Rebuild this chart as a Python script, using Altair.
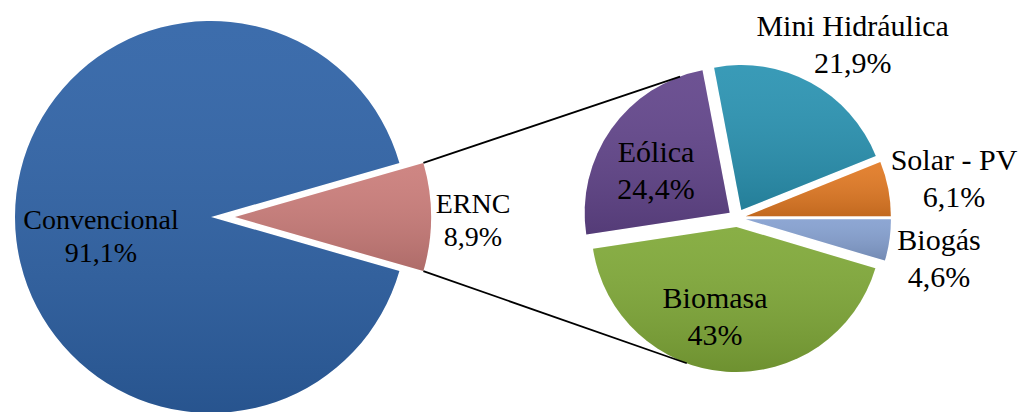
import math
import altair as alt
import pandas as pd

# ---------------- data ----------------
left_categories = ["ERNC", "Convencional"]
left_values = [8.9, 91.1]
left_pct_labels = ["8,9%", "91,1%"]

right_categories = ["Mini Hidráulica", "Solar - PV", "Biogás", "Biomasa", "Eólica"]
right_values = [21.9, 6.1, 4.6, 43.0, 24.4]
right_pct_labels = ["21,9%", "6,1%", "4,6%", "43%", "24,4%"]

# ---------------- style ----------------
slice_colors = {
    "Convencional": "#2E62A6",
    "ERNC": "#CB7D7A",
    "Mini Hidráulica": "#2A93B2",
    "Solar - PV": "#E27A24",
    "Biogás": "#85A0D0",
    "Biomasa": "#80A938",
    "Eólica": "#62458B",
}
LEFT = dict(cx=211.0, cy=217.0, r=196.0, font=28, line=32.5)
RIGHT = dict(cx=737.0, cy=218.0, r=145.0, font=30, line=36.5)
explode = {"ERNC": 24, "Convencional": 0}
RIGHT_EXPLODE = 9
CONNECTOR_TILT = math.radians(20)  # angle of connector end from vertical

# label placement (angle in degrees clockwise from 12 o'clock, distance px from pie centre)
label_polar = {
    "Convencional": (255.5, 113.6),
    "ERNC": (92.7, 262.3),
    "Mini Hidráulica": (35.3, 200.1),
    "Solar - PV": (82.2, 219.0),
    "Biogás": (104.0, 208.2),
    "Biomasa": (191.4, 110.9),
    "Eólica": (295.0, 89.3),
}

TAU = 2 * math.pi


def build(cats, vals, start, geom, expl):
    total = sum(vals)
    a = start
    rows = []
    for c, v in zip(cats, vals):
        span = TAU * v / total
        t0, t1 = a, a + span
        mid = (t0 + t1) / 2
        d = expl(c)
        rows.append(dict(cat=c, value=v, t0=t0, t1=t1, mid=mid,
                         x=geom["cx"] + d * math.sin(mid),
                         y=geom["cy"] - d * math.cos(mid),
                         r=geom["r"]))
        a = t1
    return rows


# left pie: "ERNC" centred on 3 o'clock
left_total = sum(left_values)
left_start = math.pi / 2 - math.pi * left_values[0] / left_total
left_rows = build(left_categories, left_values, left_start, LEFT, lambda c: explode[c])

# right pie: boundary between Solar - PV and Biogás at 3 o'clock
right_total = sum(right_values)
right_start = TAU + math.pi / 2 - TAU * (right_values[0] + right_values[1]) / right_total
right_rows = build(right_categories, right_values, right_start, RIGHT, lambda c: RIGHT_EXPLODE)

slices = pd.DataFrame(left_rows + right_rows)

# labels
lab_rows = []
for cats, pcts, geom in ((left_categories, left_pct_labels, LEFT),
                         (right_categories, right_pct_labels, RIGHT)):
    for c, p in zip(cats, pcts):
        ang, dist = label_polar[c]
        ang = math.radians(ang)
        x = geom["cx"] + dist * math.sin(ang)
        ym = geom["cy"] - dist * math.cos(ang)
        lab_rows.append(dict(name=c, pct=p, x=x,
                             y1=ym - geom["line"] / 2, y2=ym + geom["line"] / 2,
                             fs=geom["font"]))
labels = pd.DataFrame(lab_rows)

# connector lines: from ERNC corners to the second pie
ernc = left_rows[0]
conn = []


def point_on_right(angle):
    a = angle % TAU
    for row in right_rows:
        lo, hi = row["t0"] % TAU, row["t1"] % TAU
        inside = lo <= a < hi if lo < hi else (a >= lo or a < hi)
        if inside:
            return (row["x"] + RIGHT["r"] * math.sin(a), row["y"] - RIGHT["r"] * math.cos(a))
    return (RIGHT["cx"] + RIGHT["r"] * math.sin(a), RIGHT["cy"] - RIGHT["r"] * math.cos(a))


for corner, target in ((ernc["t0"], -CONNECTOR_TILT), (ernc["t1"], math.pi + CONNECTOR_TILT)):
    sx = ernc["x"] + LEFT["r"] * math.sin(corner)
    sy = ernc["y"] - LEFT["r"] * math.cos(corner)
    ex, ey = point_on_right(target)
    conn.append(dict(x=sx, y=sy, x2=ex, y2=ey))
connectors = pd.DataFrame(conn)

# ---------------- chart ----------------
enc = dict(
    theta=alt.Theta("t0:Q", scale=None, stack=None),
    theta2="t1:Q",
    x=alt.X("x:Q", scale=None, axis=None),
    y=alt.Y("y:Q", scale=None, axis=None),
    radius=alt.Radius("r:Q", scale=None),
)

base_arcs = alt.Chart(slices).mark_arc(stroke=None).encode(
    color=alt.Color("cat:N", legend=None,
                    scale=alt.Scale(domain=list(slice_colors.keys()),
                                    range=list(slice_colors.values()))),
    **enc,
)

shade = alt.Chart(slices).mark_arc(
    stroke=None,
    fill=alt.LinearGradient(
        gradient="linear",
        stops=[alt.GradientStop(color="rgba(255,255,255,0.07)", offset=0),
               alt.GradientStop(color="rgba(0,0,0,0.14)", offset=1)],
        x1=0, x2=0, y1=0, y2=1,
    ),
).encode(**enc)

lines = alt.Chart(connectors).mark_rule(color="black", strokeWidth=1.8).encode(
    x=alt.X("x:Q", scale=None, axis=None),
    y=alt.Y("y:Q", scale=None, axis=None),
    x2="x2:Q",
    y2="y2:Q",
)

name_text = alt.Chart(labels).mark_text(
    font="Liberation Serif", color="black", align="center", baseline="alphabetic"
).encode(
    x=alt.X("x:Q", scale=None, axis=None),
    y=alt.Y("y1:Q", scale=None, axis=None),
    text="name:N",
    size=alt.Size("fs:Q", scale=None, legend=None),
)

pct_text = alt.Chart(labels).mark_text(
    font="Liberation Serif", color="black", align="center", baseline="alphabetic"
).encode(
    x=alt.X("x:Q", scale=None, axis=None),
    y=alt.Y("y2:Q", scale=None, axis=None),
    text="pct:N",
    size=alt.Size("fs:Q", scale=None, legend=None),
)

chart = alt.layer(base_arcs, shade, lines, name_text, pct_text).properties(
    width=1024, height=412, padding=0,
    autosize=alt.AutoSizeParams(type="none"),
    background="white",
).configure_view(stroke=None)

chart.save("out.html", embed_options={"renderer": "svg", "actions": False})
